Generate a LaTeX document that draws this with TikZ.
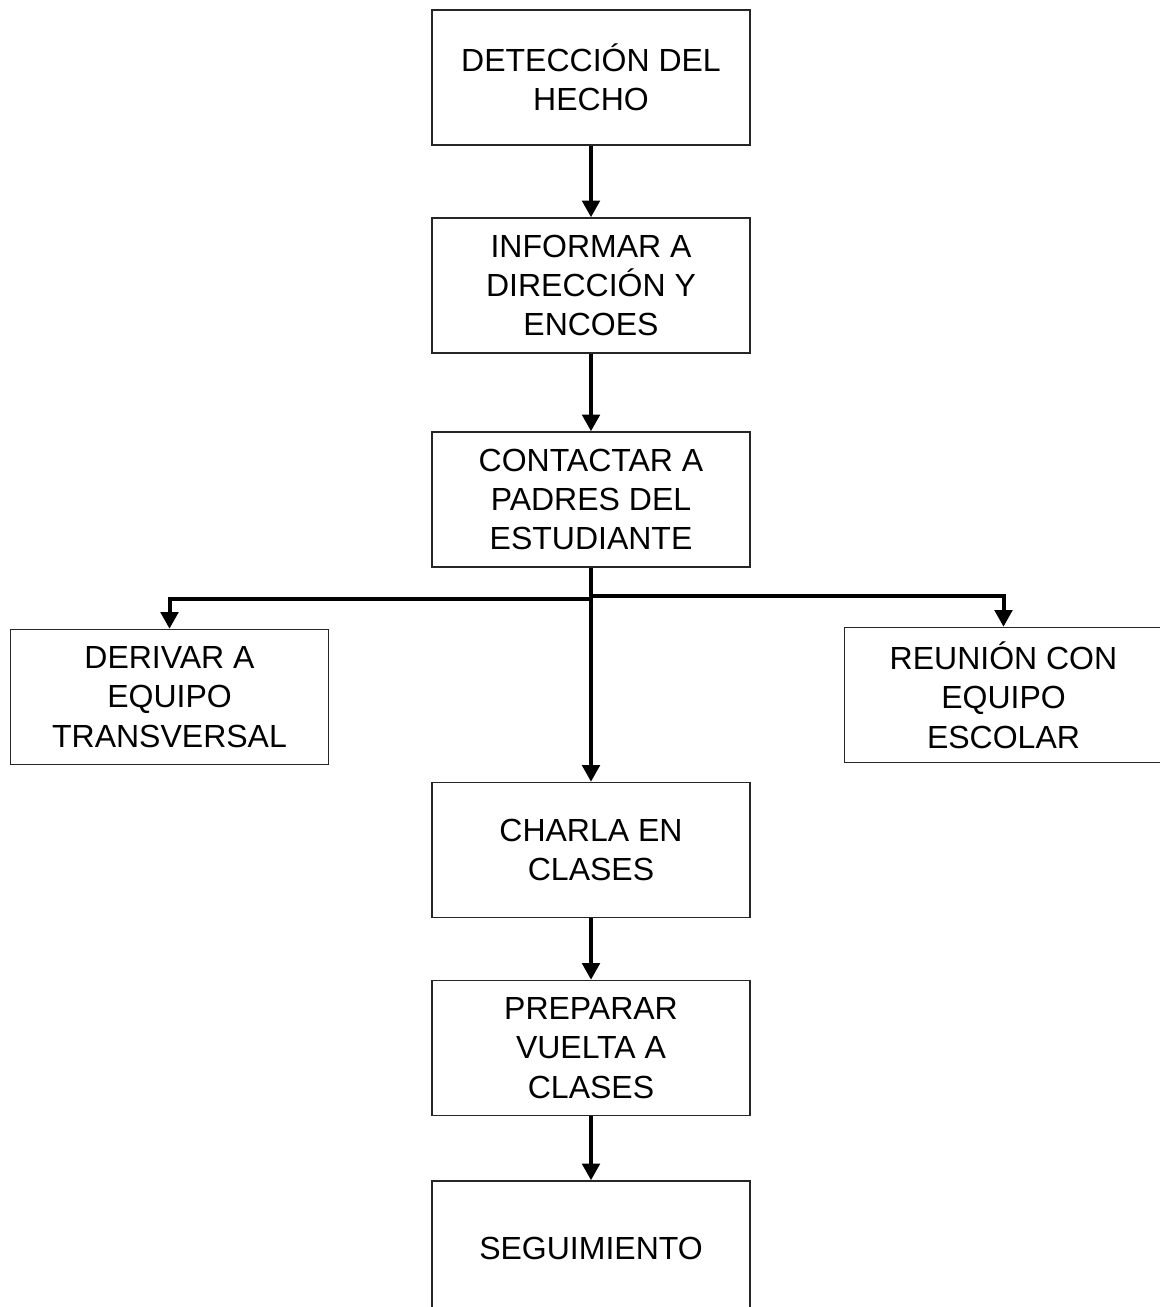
\documentclass[tikz,border=0pt]{standalone}
\usepackage{fontspec}
\setmainfont{Liberation Sans}
\usetikzlibrary{arrows.meta}
\begin{document}
\begin{tikzpicture}[x=0.75pt,y=-0.75pt,
  stepbox/.style={draw=black!85,line width=1.1pt,fill=white,minimum width=238.5pt,minimum height=101.25pt,
    align=center,inner sep=0pt,font=\fontsize{24}{29.5}\selectfont},
  conn/.style={line width=3pt,-{Triangle[length=12.5pt,width=13pt]}}]
\useasboundingbox (0,0) rectangle (1160,1307);
\node[stepbox] (b1) at (591,77.5) {DETECCIÓN DEL\\HECHO};
\node[stepbox] (b2) at (591,285.5) {INFORMAR A\\DIRECCIÓN Y\\ENCOES};
\node[stepbox] (b3) at (591,499.5) {CONTACTAR A\\PADRES DEL\\ESTUDIANTE};
\node[stepbox] (bl) at (169.5,697) {DERIVAR A\\EQUIPO\\TRANSVERSAL};
\node[stepbox] (br) at (1003.5,695) {REUNIÓN CON\\EQUIPO\\ESCOLAR};
\node[stepbox] (b4) at (591,850) {CHARLA EN\\CLASES};
\node[stepbox] (b5) at (591,1048) {PREPARAR\\VUELTA A\\CLASES};
\node[stepbox] (b6) at (591,1248.5) {SEGUIMIENTO};
\coordinate (jl) at (591,599);
\coordinate (jr) at (591,596);
\draw[conn] (b1) -- (b2);
\draw[conn] (b2) -- (b3);
\draw[conn] (b3) -- (b4);
\draw[conn] (jl) -| (bl);
\draw[conn] (jr) -| (br);
\draw[conn] (b4) -- (b5);
\draw[conn] (b5) -- (b6);
\end{tikzpicture}
\end{document}
